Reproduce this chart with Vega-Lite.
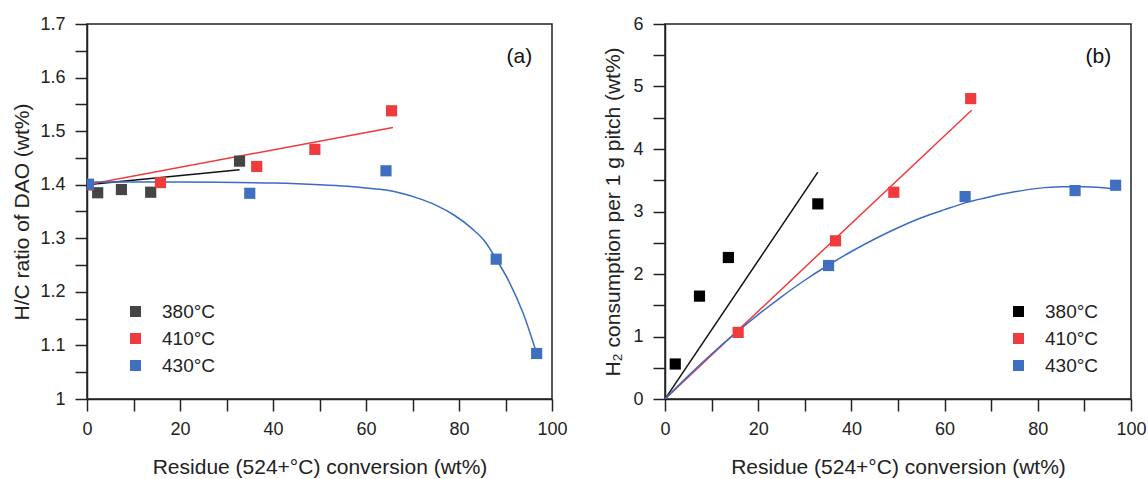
{
  "$schema": "https://vega.github.io/schema/vega-lite/v6.json",
  "padding": {"left": 11, "top": 14, "right": 5, "bottom": 5},
  "spacing": 113,
  "bounds": "flush",
  "background": "white",
  "config": {
    "font": "Liberation Sans",
    "view": {"stroke": "#222222", "strokeWidth": 1.5},
    "axis": {
      "domainColor": "#222222", "domainWidth": 1.5,
      "tickColor": "#222222", "tickWidth": 1.5, "ticks": true, "tickSize": 12,
      "labelFont": "Liberation Sans", "labelFontSize": 18, "labelColor": "#222222",
      "titleFont": "Liberation Sans", "titleFontSize": 21, "titleFontWeight": "normal", "titleColor": "#222222",
      "grid": false, "labelFlush": false, "labelOverlap": false
    },
    "legend": {
      "labelFont": "Liberation Sans", "labelFontSize": 19, "labelColor": "#222222",
      "symbolType": "square", "symbolSize": 121, "symbolStrokeWidth": 0,
      "labelOffset": 17, "rowPadding": 7, "padding": 0
    }
  },
  "datasets": {
    "a_pts": [
      {"x": 0.3, "y": 1.400, "series": "380°C"},
      {"x": 2.3, "y": 1.385, "series": "380°C"},
      {"x": 7.4, "y": 1.391, "series": "380°C"},
      {"x": 13.7, "y": 1.386, "series": "380°C"},
      {"x": 32.8, "y": 1.444, "series": "380°C"},
      {"x": 0.3, "y": 1.400, "series": "410°C"},
      {"x": 15.8, "y": 1.404, "series": "410°C"},
      {"x": 36.5, "y": 1.434, "series": "410°C"},
      {"x": 49.0, "y": 1.466, "series": "410°C"},
      {"x": 65.5, "y": 1.538, "series": "410°C"},
      {"x": 0.3, "y": 1.401, "series": "430°C"},
      {"x": 35.0, "y": 1.384, "series": "430°C"},
      {"x": 64.3, "y": 1.426, "series": "430°C"},
      {"x": 88.0, "y": 1.261, "series": "430°C"},
      {"x": 96.7, "y": 1.085, "series": "430°C"}
    ],
    "a_fit": [
      {"x": 0, "y": 1.400, "series": "380°C"},
      {"x": 32.8, "y": 1.428, "series": "380°C"},
      {"x": 0, "y": 1.400, "series": "410°C"},
      {"x": 65.8, "y": 1.507, "series": "410°C"},
      {"x": 0, "y": 1.405, "series": "430°C"},
      {"x": 20, "y": 1.405, "series": "430°C"},
      {"x": 40, "y": 1.403, "series": "430°C"},
      {"x": 50, "y": 1.400, "series": "430°C"},
      {"x": 56, "y": 1.397, "series": "430°C"},
      {"x": 60, "y": 1.394, "series": "430°C"},
      {"x": 64.3, "y": 1.390, "series": "430°C"},
      {"x": 68, "y": 1.383, "series": "430°C"},
      {"x": 71.1, "y": 1.375, "series": "430°C"},
      {"x": 75, "y": 1.362, "series": "430°C"},
      {"x": 79, "y": 1.343, "series": "430°C"},
      {"x": 82.8, "y": 1.318, "series": "430°C"},
      {"x": 85.5, "y": 1.295, "series": "430°C"},
      {"x": 88, "y": 1.261, "series": "430°C"},
      {"x": 90.6, "y": 1.222, "series": "430°C"},
      {"x": 93.8, "y": 1.160, "series": "430°C"},
      {"x": 96.7, "y": 1.085, "series": "430°C"}
    ],
    "a_lab": [{"x": 93, "y": 1.638, "label": "(a)"}],
    "b_pts": [
      {"x": 2.2, "y": 0.56, "series": "380°C"},
      {"x": 7.4, "y": 1.646, "series": "380°C"},
      {"x": 13.6, "y": 2.264, "series": "380°C"},
      {"x": 32.8, "y": 3.122, "series": "380°C"},
      {"x": 15.7, "y": 1.066, "series": "410°C"},
      {"x": 36.6, "y": 2.531, "series": "410°C"},
      {"x": 49.1, "y": 3.308, "series": "410°C"},
      {"x": 65.6, "y": 4.806, "series": "410°C"},
      {"x": 35.1, "y": 2.136, "series": "430°C"},
      {"x": 64.4, "y": 3.239, "series": "430°C"},
      {"x": 88.0, "y": 3.335, "series": "430°C"},
      {"x": 96.7, "y": 3.42, "series": "430°C"}
    ],
    "b_fit": [
      {"x": 0, "y": 0, "series": "380°C"},
      {"x": 32.8, "y": 3.63, "series": "380°C"},
      {"x": 0, "y": 0, "series": "410°C"},
      {"x": 65.8, "y": 4.62, "series": "410°C"},
      {"x": 0, "y": 0, "series": "430°C"},
      {"x": 5, "y": 0.37, "series": "430°C"},
      {"x": 10, "y": 0.72, "series": "430°C"},
      {"x": 15, "y": 1.045, "series": "430°C"},
      {"x": 20, "y": 1.35, "series": "430°C"},
      {"x": 25, "y": 1.635, "series": "430°C"},
      {"x": 30, "y": 1.90, "series": "430°C"},
      {"x": 35, "y": 2.14, "series": "430°C"},
      {"x": 40, "y": 2.36, "series": "430°C"},
      {"x": 45, "y": 2.56, "series": "430°C"},
      {"x": 50, "y": 2.74, "series": "430°C"},
      {"x": 55, "y": 2.90, "series": "430°C"},
      {"x": 60, "y": 3.03, "series": "430°C"},
      {"x": 65, "y": 3.15, "series": "430°C"},
      {"x": 70, "y": 3.24, "series": "430°C"},
      {"x": 75, "y": 3.315, "series": "430°C"},
      {"x": 80, "y": 3.37, "series": "430°C"},
      {"x": 85, "y": 3.395, "series": "430°C"},
      {"x": 90, "y": 3.395, "series": "430°C"},
      {"x": 96.7, "y": 3.36, "series": "430°C"}
    ],
    "b_lab": [{"x": 93, "y": 5.47, "label": "(b)"}]
  },
  "hconcat": [
    {
      "width": 465,
      "height": 375,
      "encoding": {
        "x": {
          "field": "x", "type": "quantitative",
          "scale": {"domain": [0, 100], "nice": false},
          "axis": {
            "title": "Residue (524+°C) conversion (wt%)",
            "values": [0, 10, 20, 30, 40, 50, 60, 70, 80, 90, 100],
            "labelExpr": "datum.value % 20 === 0 ? datum.label : ''",
            "encode": {"ticks": {"update": {"y2": {"signal": "datum.value % 20 === 0 ? 12 : 5"}}}},
            "labelPadding": 9, "titlePadding": 18
          }
        },
        "y": {
          "field": "y", "type": "quantitative",
          "scale": {"domain": [1, 1.7], "nice": false, "zero": false},
          "axis": {
            "title": "H/C ratio of DAO (wt%)",
            "values": [1, 1.05, 1.1, 1.15, 1.2, 1.25, 1.3, 1.35, 1.4, 1.45, 1.5, 1.55, 1.6, 1.65, 1.7],
            "labelExpr": "round(datum.value * 100) % 10 === 0 ? format(datum.value, '~g') : ''",
            "encode": {"ticks": {"update": {"x2": {"signal": "round(datum.value * 100) % 10 === 0 ? -12 : -5"}}}},
            "labelPadding": 10, "titlePadding": 7
          }
        }
      },
      "layer": [
        {
          "data": {"name": "a_fit"},
          "mark": {"type": "line", "strokeWidth": 1.5, "interpolate": "monotone", "clip": true},
          "encoding": {
            "color": {
              "field": "series", "type": "nominal",
              "scale": {"domain": ["380°C", "410°C", "430°C"], "range": ["#111111", "#f03a3a", "#3a6cc4"]},
              "legend": null
            }
          }
        },
        {
          "data": {"name": "a_pts"},
          "mark": {"type": "square", "size": 125, "opacity": 1, "clip": true},
          "encoding": {
            "color": {
              "field": "series", "type": "nominal",
              "scale": {"domain": ["380°C", "410°C", "430°C"], "range": ["#454545", "#ef3b3b", "#3f6fc0"]},
              "legend": {"title": null, "orient": "none", "legendX": 39, "legendY": 278}
            }
          }
        },
        {
          "data": {"name": "a_lab"},
          "mark": {"type": "text", "fontSize": 21, "color": "#111111", "font": "Liberation Sans"},
          "encoding": {"text": {"field": "label"}}
        }
      ],
      "resolve": {"scale": {"color": "independent"}}
    },
    {
      "width": 466,
      "height": 375,
      "encoding": {
        "x": {
          "field": "x", "type": "quantitative",
          "scale": {"domain": [0, 100], "nice": false},
          "axis": {
            "title": "Residue (524+°C) conversion (wt%)",
            "values": [0, 10, 20, 30, 40, 50, 60, 70, 80, 90, 100],
            "labelExpr": "datum.value % 20 === 0 ? datum.label : ''",
            "encode": {"ticks": {"update": {"y2": {"signal": "datum.value % 20 === 0 ? 12 : 5"}}}},
            "labelPadding": 9, "titlePadding": 18
          }
        },
        "y": {
          "field": "y", "type": "quantitative",
          "scale": {"domain": [0, 6], "nice": false},
          "axis": {
            "title": "H₂ consumption per 1 g pitch (wt%)",
            "values": [0, 0.5, 1, 1.5, 2, 2.5, 3, 3.5, 4, 4.5, 5, 5.5, 6],
            "labelExpr": "datum.value % 1 === 0 ? format(datum.value, '~g') : ''",
            "encode": {"ticks": {"update": {"x2": {"signal": "datum.value % 1 === 0 ? -12 : -5"}}}},
            "labelPadding": 10, "titlePadding": 9
          }
        }
      },
      "layer": [
        {
          "data": {"name": "b_fit"},
          "mark": {"type": "line", "strokeWidth": 1.5, "interpolate": "monotone", "clip": true},
          "encoding": {
            "color": {
              "field": "series", "type": "nominal",
              "scale": {"domain": ["380°C", "410°C", "430°C"], "range": ["#111111", "#f03a3a", "#3a6cc4"]},
              "legend": null
            }
          }
        },
        {
          "data": {"name": "b_pts"},
          "mark": {"type": "square", "size": 125, "opacity": 1, "clip": true},
          "encoding": {
            "color": {
              "field": "series", "type": "nominal",
              "scale": {"domain": ["380°C", "410°C", "430°C"], "range": ["#000000", "#ef3b3b", "#3f6fc0"]},
              "legend": {"title": null, "orient": "none", "legendX": 344, "legendY": 278}
            }
          }
        },
        {
          "data": {"name": "b_lab"},
          "mark": {"type": "text", "fontSize": 21, "color": "#111111", "font": "Liberation Sans"},
          "encoding": {"text": {"field": "label"}}
        }
      ],
      "resolve": {"scale": {"color": "independent"}}
    }
  ],
  "resolve": {"scale": {"color": "independent"}, "legend": {"color": "independent"}}
}
